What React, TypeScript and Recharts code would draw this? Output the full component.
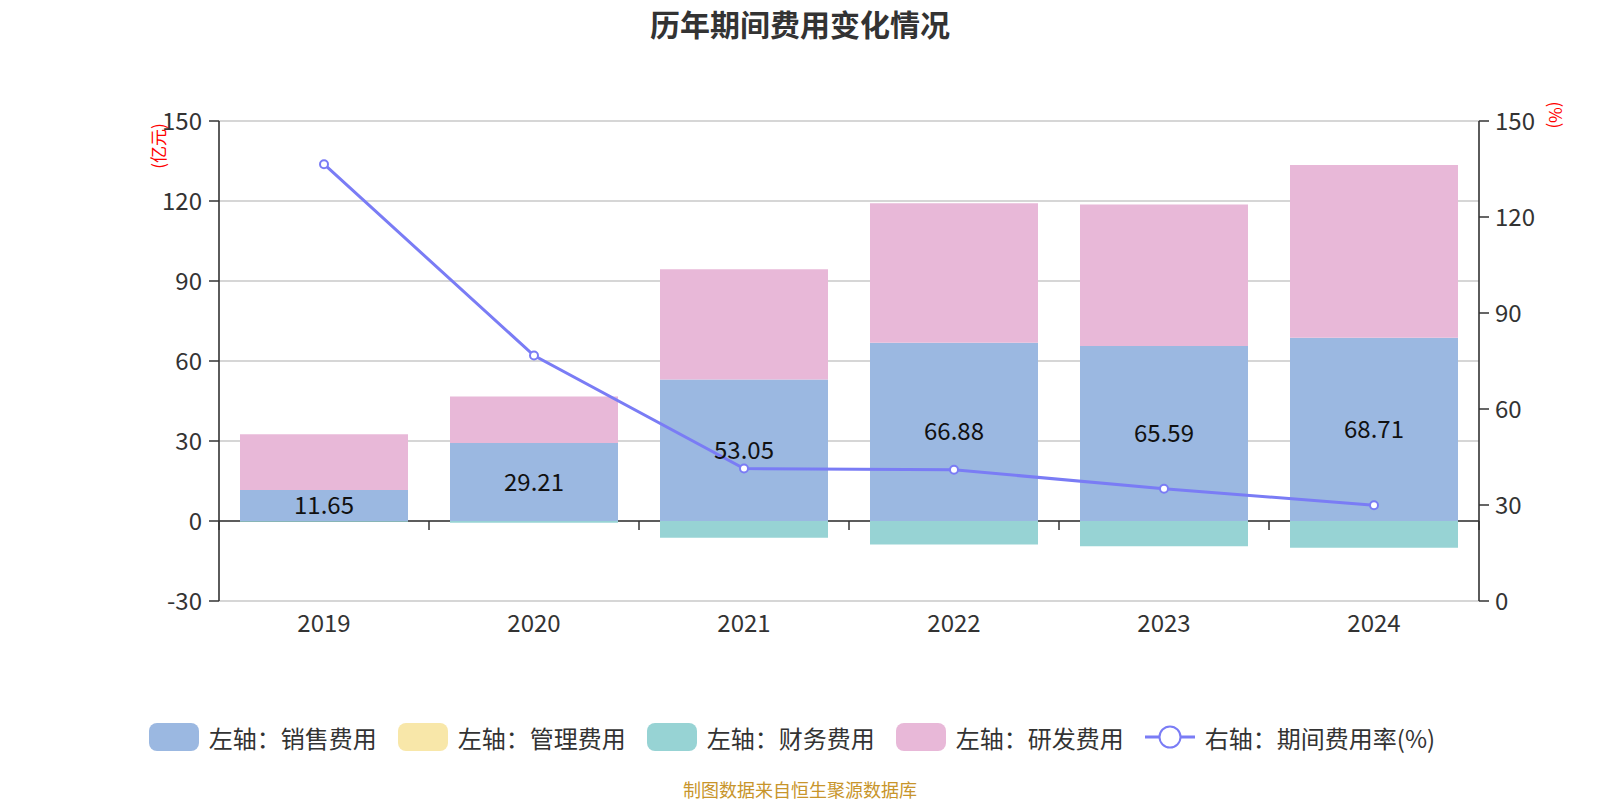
import React from 'react';
import {
  ComposedChart,
  XAxis,
  YAxis,
  CartesianGrid,
  Bar,
  Line,
  LabelList,
  Legend,
  ReferenceLine,
} from 'recharts';

const years = ['2019', '2020', '2021', '2022', '2023', '2024'];
const salesCost = [11.65, 29.21, 53.05, 66.88, 65.59, 68.71];
const adminCost = [0, 0, 0, 0, 0, 0];
const financeCost = [-0.25, -0.7, -6.3, -8.8, -9.5, -10.0];
const rdCost = [20.9, 17.5, 41.4, 52.3, 53.1, 64.8];
const expenseRate = [136.5, 76.7, 41.4, 41.0, 35.1, 29.9];

const leftTicks = [-30, 0, 30, 60, 90, 120, 150];
const rightTicks = [0, 30, 60, 90, 120, 150];

const FONT = "'Noto Sans CJK SC', 'Noto Sans', sans-serif";
const TEXT = '#333';
const LINE_COLOR = '#7a7cf5';

const series = [
  { key: 'sales', name: '左轴：销售费用', color: '#9bb8e1' },
  { key: 'admin', name: '左轴：管理费用', color: '#f8e7a9' },
  { key: 'finance', name: '左轴：财务费用', color: '#97d3d4' },
  { key: 'rd', name: '左轴：研发费用', color: '#e8b8d8' },
];
const rateName = '右轴：期间费用率(%)';

const data = years.map((year, i) => ({
  year,
  sales: salesCost[i],
  admin: adminCost[i],
  finance: financeCost[i],
  rd: rdCost[i],
  rate: expenseRate[i],
}));

// x axis drawn at y = 0 with ticks between categories
function ZeroAxis(props: any) {
  const { x1, x2, y1 } = props;
  const step = (x2 - x1) / years.length;
  const ticks = [];
  for (let i = 0; i <= years.length; i++) {
    const x = x1 + i * step;
    ticks.push(<line key={i} x1={x} y1={y1} x2={x} y2={y1 + 9} stroke={TEXT} strokeWidth={1.5} />);
  }
  return (
    <g>
      <line x1={x1} y1={y1} x2={x2} y2={y1} stroke={TEXT} strokeWidth={1.6} />
      {ticks}
    </g>
  );
}

function renderLegend() {
  return (
    <div
      style={{
        display: 'flex',
        justifyContent: 'center',
        alignItems: 'center',
        fontFamily: FONT,
        fontSize: 24,
        color: TEXT,
        height: 34,
      }}
    >
      {series.map((s) => (
        <div key={s.key} style={{ display: 'flex', alignItems: 'center', marginRight: 21 }}>
          <svg width={50} height={28}>
            <rect x={0} y={0} width={50} height={28} rx={8} fill={s.color} />
          </svg>
          <span style={{ marginLeft: 10, whiteSpace: 'nowrap' }}>{s.name}</span>
        </div>
      ))}
      <div style={{ display: 'flex', alignItems: 'center' }}>
        <svg width={50} height={28}>
          <line x1={0} y1={14} x2={50} y2={14} stroke={LINE_COLOR} strokeWidth={3} />
          <circle cx={25} cy={14} r={10.5} fill="#fff" stroke={LINE_COLOR} strokeWidth={2} />
        </svg>
        <span style={{ marginLeft: 10, whiteSpace: 'nowrap' }}>{rateName}</span>
      </div>
    </div>
  );
}

export default function App() {
  return (
    <div style={{ position: 'absolute', left: 0, top: 0, width: 1600, height: 800, fontFamily: FONT }}>
      <div
        style={{
          position: 'absolute',
          top: 5,
          width: 1600,
          textAlign: 'center',
          fontSize: 30,
          lineHeight: '36px',
          fontWeight: 'bold',
          color: TEXT,
        }}
      >
        历年期间费用变化情况
      </div>
      <div
        style={{
          position: 'absolute',
          left: 157,
          top: 146,
          transform: 'translate(-50%, -50%) rotate(-90deg)',
          fontSize: 17,
          lineHeight: 1,
          color: 'red',
          whiteSpace: 'nowrap',
        }}
      >
        (亿元)
      </div>
      <div
        style={{
          position: 'absolute',
          left: 1556,
          top: 115,
          transform: 'translate(-50%, -50%) rotate(90deg)',
          fontSize: 17,
          lineHeight: 1,
          color: 'red',
          whiteSpace: 'nowrap',
        }}
      >
        (%)
      </div>
      <ComposedChart
        width={1600}
        height={800}
        data={data}
        stackOffset="sign"
        barCategoryGap="10%"
        margin={{ top: 121, right: 41, bottom: 169, left: 139 }}
        style={{ fontFamily: FONT }}
      >
        <CartesianGrid vertical={false} stroke="#c8c8c8" strokeWidth={1.4} />
        <XAxis
          dataKey="year"
          axisLine={false}
          tickLine={false}
          height={30}
          tickSize={6}
          tickMargin={8}
          tick={{ fontSize: 24, fill: TEXT }}
        />
        <YAxis
          domain={[-30, 150]}
          ticks={leftTicks}
          interval={0}
          width={80}
          allowDataOverflow
          axisLine={{ stroke: TEXT, strokeWidth: 1.6 }}
          tickLine={{ stroke: TEXT, strokeWidth: 1.5 }}
          tickSize={10}
          tickMargin={7}
          tick={{ fontSize: 24, fill: TEXT }}
        />
        <YAxis
          yAxisId="right"
          orientation="right"
          domain={[0, 150]}
          ticks={rightTicks}
          interval={0}
          width={80}
          allowDataOverflow
          axisLine={{ stroke: TEXT, strokeWidth: 1.6 }}
          tickLine={{ stroke: TEXT, strokeWidth: 1.5 }}
          tickSize={10}
          tickMargin={6}
          tick={{ fontSize: 24, fill: TEXT }}
        />
        <ReferenceLine y={0} shape={ZeroAxis} zIndex={100} />
        {series.map((s) => (
          <Bar key={s.key} dataKey={s.key} name={s.name} stackId="cost" fill={s.color} isAnimationActive={false}>
            {s.key === 'sales' && (
              <LabelList dataKey="sales" position="center" fill="#111" fontSize={24} />
            )}
          </Bar>
        ))}
        <Line
          yAxisId="right"
          dataKey="rate"
          name={rateName}
          type="linear"
          stroke={LINE_COLOR}
          strokeWidth={3}
          dot={{ r: 4, fill: '#fff', stroke: LINE_COLOR, strokeWidth: 2 }}
          activeDot={false}
          isAnimationActive={false}
        />
        <Legend
          layout="horizontal"
          verticalAlign="middle"
          align="center"
          wrapperStyle={{ top: 720, left: 0, width: 1584 }}
          content={renderLegend}
        />
      </ComposedChart>
      <div
        style={{
          position: 'absolute',
          top: 779,
          width: 1600,
          textAlign: 'center',
          fontSize: 18,
          lineHeight: '20px',
          color: '#c8952b',
        }}
      >
        制图数据来自恒生聚源数据库
      </div>
    </div>
  );
}
